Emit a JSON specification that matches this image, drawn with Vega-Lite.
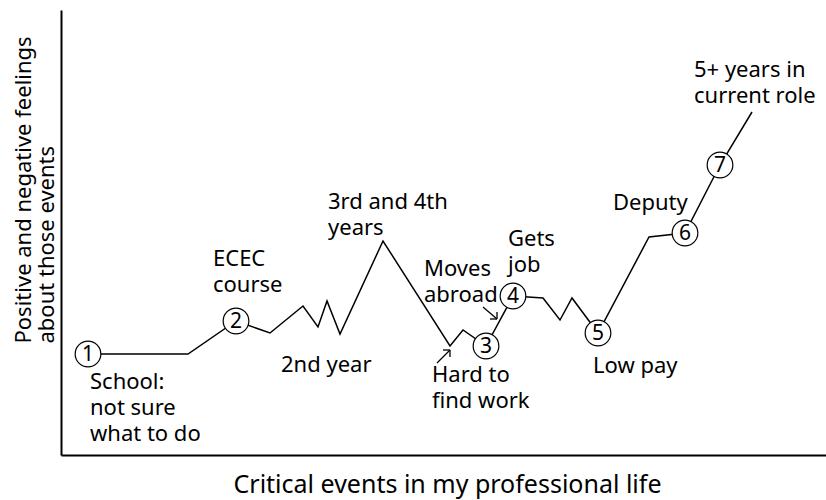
{
  "$schema": "https://vega.github.io/schema/vega-lite/v6.json",
  "width": 765,
  "height": 445,
  "autosize": "none",
  "padding": {"left": 61, "top": 10, "right": 0, "bottom": 45},
  "config": {"view": {"stroke": null}, "font": "Noto Sans"},
  "datasets": {
    "path": [
      {"o": 1, "x": 88, "y": 101}, {"o": 2, "x": 188, "y": 101}, {"o": 3, "x": 236, "y": 134},
      {"o": 4, "x": 270, "y": 122}, {"o": 5, "x": 303, "y": 149}, {"o": 6, "x": 318, "y": 128},
      {"o": 7, "x": 327, "y": 154}, {"o": 8, "x": 340, "y": 121}, {"o": 9, "x": 383, "y": 214},
      {"o": 10, "x": 450, "y": 109}, {"o": 11, "x": 463, "y": 125}, {"o": 12, "x": 486, "y": 109},
      {"o": 13, "x": 513, "y": 159}, {"o": 14, "x": 543, "y": 157}, {"o": 15, "x": 560, "y": 135},
      {"o": 16, "x": 572, "y": 157}, {"o": 17, "x": 598, "y": 122}, {"o": 18, "x": 649, "y": 218},
      {"o": 19, "x": 685, "y": 222}, {"o": 20, "x": 720, "y": 290}, {"o": 21, "x": 752, "y": 343}
    ],
    "events": [
      {"n": "1", "x": 88, "y": 101}, {"n": "2", "x": 236, "y": 134}, {"n": "3", "x": 486, "y": 109},
      {"n": "4", "x": 513, "y": 159}, {"n": "5", "x": 598, "y": 122}, {"n": "6", "x": 685, "y": 222},
      {"n": "7", "x": 720, "y": 290}
    ],
    "labels": [
      {"t": "School:\nnot sure\nwhat to do", "x": 90, "y": 66},
      {"t": "2nd year", "x": 281, "y": 83},
      {"t": "ECEC\ncourse", "x": 213, "y": 189},
      {"t": "3rd and 4th\nyears", "x": 328, "y": 246},
      {"t": "Moves\nabroad", "x": 424, "y": 179},
      {"t": "Gets\njob", "x": 508, "y": 209},
      {"t": "Hard to\nfind work", "x": 432, "y": 73},
      {"t": "Low pay", "x": 593, "y": 82},
      {"t": "Deputy", "x": 613, "y": 245},
      {"t": "5+ years in\ncurrent role", "x": 694, "y": 378}
    ],
    "segments": [
      {"x": 437, "y": 92, "x2": 450, "y2": 105},
      {"x": 450, "y": 105, "x2": 443, "y2": 105},
      {"x": 450, "y": 105, "x2": 450, "y2": 98},
      {"x": 483, "y": 148, "x2": 497, "y2": 136},
      {"x": 497, "y": 136, "x2": 490, "y2": 136},
      {"x": 497, "y": 136, "x2": 497, "y2": 143}
    ]
  },
  "layer": [
    {
      "data": {"name": "path"},
      "mark": {"type": "line", "color": "black", "strokeWidth": 1.5},
      "encoding": {
        "x": {
          "field": "x", "type": "quantitative",
          "scale": {"domain": [61, 826], "nice": false, "zero": false},
          "axis": {
            "title": "Critical events in my professional life",
            "domain": true, "domainColor": "black", "domainWidth": 2,
            "ticks": false, "labels": false, "grid": false,
            "titleFont": "Noto Sans", "titleFontSize": 25, "titleFontWeight": "normal",
            "titleColor": "black", "titleX": 386, "titleY": 37,
            "titleAlign": "center", "titleBaseline": "alphabetic", "titleAnchor": null
          }
        },
        "y": {
          "field": "y", "type": "quantitative",
          "scale": {"domain": [0, 445], "nice": false, "zero": false},
          "axis": {
            "title": ["Positive and negative feelings", "about those events"],
            "domain": true, "domainColor": "black", "domainWidth": 2,
            "ticks": false, "labels": false, "grid": false,
            "titleFont": "Noto Sans", "titleFontSize": 22, "titleFontWeight": "normal",
            "titleColor": "black", "titleX": -31, "titleY": 333, "titleAngle": -90,
            "titleAlign": "left", "titleBaseline": "alphabetic", "titleAnchor": null,
            "titleLineHeight": 23
          }
        },
        "order": {"field": "o", "type": "quantitative"}
      }
    },
    {
      "data": {"name": "segments"},
      "mark": {"type": "rule", "color": "black", "strokeWidth": 1.3},
      "encoding": {
        "x": {"field": "x", "type": "quantitative"},
        "y": {"field": "y", "type": "quantitative"},
        "x2": {"field": "x2"},
        "y2": {"field": "y2"}
      }
    },
    {
      "data": {"name": "events"},
      "mark": {"type": "point", "shape": "circle", "filled": false, "fill": "white", "fillOpacity": 1, "stroke": "black", "strokeWidth": 1.2, "size": 660, "opacity": 1},
      "encoding": {
        "x": {"field": "x", "type": "quantitative"},
        "y": {"field": "y", "type": "quantitative"}
      }
    },
    {
      "data": {"name": "events"},
      "mark": {"type": "text", "font": "Noto Sans", "fontSize": 21, "color": "black", "align": "center", "baseline": "middle", "dy": 1},
      "encoding": {
        "x": {"field": "x", "type": "quantitative"},
        "y": {"field": "y", "type": "quantitative"},
        "text": {"field": "n"}
      }
    },
    {
      "data": {"name": "labels"},
      "mark": {"type": "text", "font": "Noto Sans", "fontSize": 22, "color": "black", "align": "left", "baseline": "alphabetic", "lineBreak": "\n", "lineHeight": 26},
      "encoding": {
        "x": {"field": "x", "type": "quantitative"},
        "y": {"field": "y", "type": "quantitative"},
        "text": {"field": "t"}
      }
    }
  ]
}
